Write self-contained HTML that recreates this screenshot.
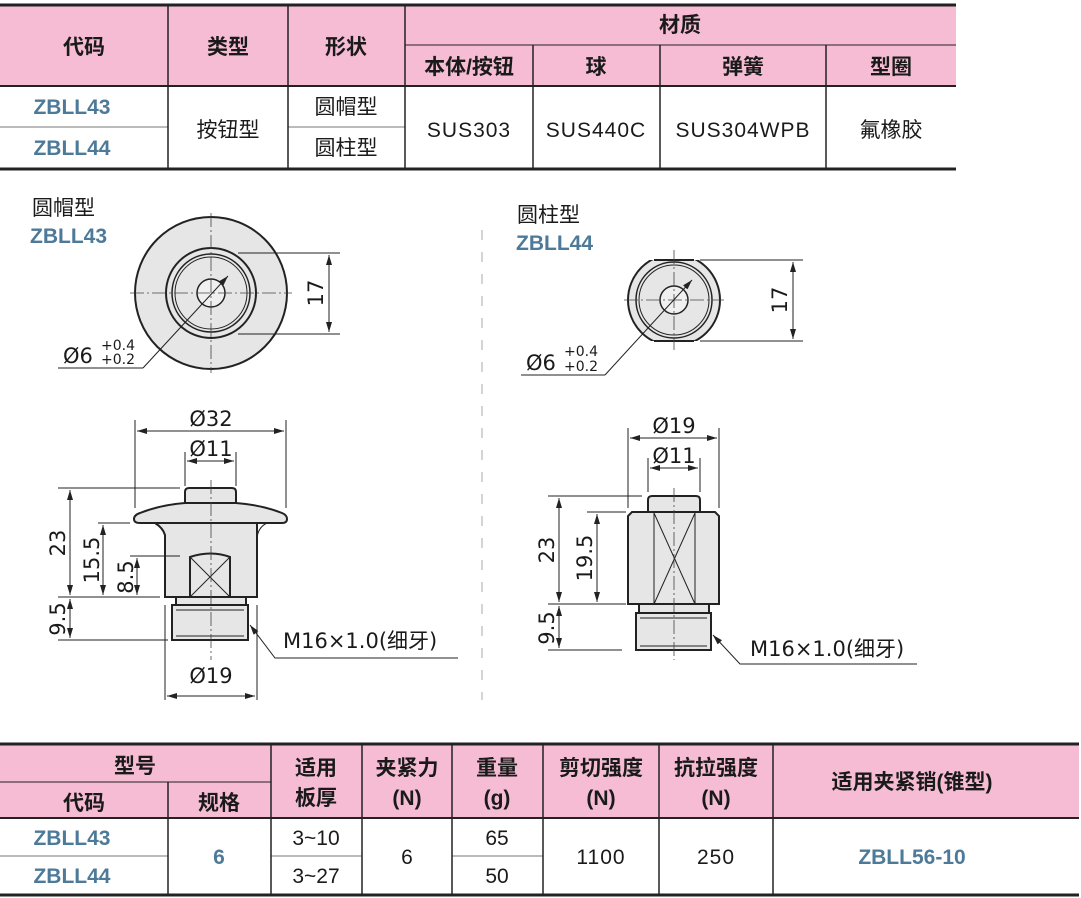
<!DOCTYPE html>
<html><head><meta charset="utf-8"><style>
html,body{margin:0;padding:0;background:#fff;}
svg{display:block;}
text{font-family:"Liberation Sans","Noto Sans CJK SC",sans-serif;fill:#1a1a1a;}
.h{font-size:21px;font-weight:bold;}
.d{font-size:21px;}
.b{font-size:21px;font-weight:bold;fill:#4d7a99;}
.m{font-size:21px;font-family:"DejaVu Sans","Noto Sans CJK SC",sans-serif;}
.s{font-size:14px;font-family:"DejaVu Sans",sans-serif;}
.p{fill:#e6e6e6;stroke:#222;stroke-width:2;}
.t{stroke:#222;stroke-width:1;fill:none;}
.c{stroke:#444;stroke-width:0.8;stroke-dasharray:14 3 2 3;fill:none;}
</style></head><body>
<svg width="1081" height="898" viewBox="0 0 1081 898" xmlns="http://www.w3.org/2000/svg">
<defs><marker id="a" viewBox="0 0 10 6" refX="10" refY="3" markerWidth="10" markerHeight="6" orient="auto-start-reverse"><path d="M0,0L10,3L0,6z" fill="#222"/></marker></defs>
<rect x="0" y="5" width="956" height="81" fill="#f5bcd4"/>
<g stroke="#222" stroke-width="1.5">
<line x1="0" y1="5" x2="956" y2="5" stroke-width="3"/>
<line x1="0" y1="86" x2="956" y2="86" stroke-width="2"/>
<line x1="0" y1="169" x2="956" y2="169" stroke-width="3"/>
<line x1="405" y1="45" x2="956" y2="45" stroke-width="1"/>
<line x1="0" y1="127" x2="168" y2="127" stroke="#777" stroke-width="1"/>
<line x1="288" y1="127" x2="405" y2="127" stroke="#777" stroke-width="1"/>
<line x1="168" y1="5" x2="168" y2="169"/><line x1="288" y1="5" x2="288" y2="169"/>
<line x1="405" y1="5" x2="405" y2="169"/><line x1="533" y1="45" x2="533" y2="169"/>
<line x1="660" y1="45" x2="660" y2="169"/><line x1="826" y1="45" x2="826" y2="169"/>
</g>
<g text-anchor="middle">
<text class="h" x="84" y="54">代码</text><text class="h" x="228" y="54">类型</text><text class="h" x="346" y="54">形状</text>
<text class="h" x="680" y="32">材质</text>
<text class="h" x="469" y="74">本体/按钮</text><text class="h" x="596" y="74">球</text><text class="h" x="743" y="74">弹簧</text><text class="h" x="891" y="74">型圈</text>
<text class="b" x="72" y="114">ZBLL43</text><text class="b" x="72" y="155">ZBLL44</text>
<text class="d" x="228" y="137">按钮型</text>
<text class="d" x="346" y="114">圆帽型</text><text class="d" x="346" y="155">圆柱型</text>
<text class="d" x="469" y="137" letter-spacing="1">SUS303</text><text class="d" x="596" y="137" letter-spacing="1">SUS440C</text>
<text class="d" x="743" y="137" letter-spacing="1">SUS304WPB</text><text class="d" x="891" y="137">氟橡胶</text>
</g>
<rect x="0" y="744" width="1079" height="74" fill="#f5bcd4"/>
<g stroke="#222" stroke-width="1.5">
<line x1="0" y1="744" x2="1079" y2="744" stroke-width="3"/>
<line x1="0" y1="818" x2="1079" y2="818" stroke-width="2"/>
<line x1="0" y1="895" x2="1079" y2="895" stroke-width="3"/>
<line x1="0" y1="782" x2="271" y2="782" stroke-width="1"/>
<line x1="0" y1="856" x2="168" y2="856" stroke="#777" stroke-width="1"/>
<line x1="271" y1="856" x2="362" y2="856" stroke="#777" stroke-width="1"/>
<line x1="452" y1="856" x2="543" y2="856" stroke="#777" stroke-width="1"/>
<line x1="168" y1="782" x2="168" y2="895"/><line x1="271" y1="744" x2="271" y2="895"/>
<line x1="362" y1="744" x2="362" y2="895"/><line x1="452" y1="744" x2="452" y2="895"/>
<line x1="543" y1="744" x2="543" y2="895"/><line x1="659" y1="744" x2="659" y2="895"/>
<line x1="773" y1="744" x2="773" y2="895"/>
</g>
<g text-anchor="middle">
<text class="h" x="135" y="773">型号</text>
<text class="h" x="84" y="810">代码</text><text class="h" x="219" y="810">规格</text>
<text class="h" x="316" y="775">适用</text><text class="h" x="316" y="805">板厚</text>
<text class="h" x="407" y="775">夹紧力</text><text class="h" x="407" y="805">(N)</text>
<text class="h" x="497" y="775">重量</text><text class="h" x="497" y="805">(g)</text>
<text class="h" x="601" y="775">剪切强度</text><text class="h" x="601" y="805">(N)</text>
<text class="h" x="716" y="775">抗拉强度</text><text class="h" x="716" y="805">(N)</text>
<text class="h" x="912" y="789">适用夹紧销(锥型)</text>
<text class="b" x="72" y="845">ZBLL43</text><text class="b" x="72" y="883">ZBLL44</text>
<text class="b" x="219" y="864">6</text>
<text class="d" x="316" y="845">3~10</text><text class="d" x="316" y="883">3~27</text>
<text class="d" x="407" y="864">6</text>
<text class="d" x="497" y="845">65</text><text class="d" x="497" y="883">50</text>
<text class="d" x="601" y="864" letter-spacing="1">1100</text><text class="d" x="716" y="864" letter-spacing="1">250</text>
<text class="b" x="912" y="864">ZBLL56-10</text>
</g>
<line x1="482" y1="230" x2="482" y2="700" stroke="#aaa" stroke-width="1" stroke-dasharray="10 12"/>
<text class="h" x="32" y="215" style="font-weight:normal">圆帽型</text>
<text class="b" x="30" y="243">ZBLL43</text>
<text class="h" x="517" y="222" style="font-weight:normal">圆柱型</text>
<text class="b" x="516" y="250">ZBLL44</text>

<circle cx="211" cy="293" r="76" class="p"/>
<circle cx="211" cy="293" r="45" class="p"/>
<circle cx="211" cy="293" r="39" fill="#e6e6e6" stroke="#222" stroke-width="1.5"/>
<circle cx="211" cy="293" r="36" class="t"/>
<circle cx="211" cy="293" r="14" fill="#f0f0f0" stroke="#222" stroke-width="1.5"/>
<line x1="130" y1="293" x2="292" y2="293" class="c"/><line x1="211" y1="213" x2="211" y2="373" class="c"/>
<line x1="238" y1="253" x2="340" y2="253" class="t"/><line x1="238" y1="334" x2="340" y2="334" class="t"/>
<line x1="329" y1="255" x2="329" y2="332" class="t" marker-start="url(#a)" marker-end="url(#a)"/>
<text class="m" transform="translate(323,293) rotate(-90)" text-anchor="middle">17</text>
<line x1="228" y1="276" x2="143" y2="368" class="t" marker-start="url(#a)"/>
<line x1="143" y1="368" x2="58" y2="368" class="t"/>
<text class="m" x="63" y="363">Ø6</text><text class="s" x="101" y="350">+0.4</text><text class="s" x="101" y="364">+0.2</text>

<path d="M185,503 L185,492 Q185,488 189,488 L232,488 Q236,488 236,492 L236,503 Z" class="p"/>
<path d="M140,513 Q160,505 185,503 L236,503 Q262,505 282,513 Q287,515 287,519 Q287,523 282,523 L140,523 Q134,523 134,519 Q134,515 140,513 Z" class="p"/>
<path d="M165,523 L257,523 Q257,530 257,535 L257,597 L165,597 L165,535 Q163,528 155,523 Z" class="p"/>
<path d="M155,523 Q165,528 165,540" class="t"/><path d="M267,523 Q257,528 257,540" class="t"/>
<path d="M190,597 L190,557 Q211,550 230,557 L230,597" class="p" stroke-width="1.5"/>
<line x1="190" y1="557" x2="230" y2="597" class="t"/><line x1="230" y1="557" x2="190" y2="597" class="t"/>
<rect x="176" y="597" width="70" height="8" class="p"/>
<rect x="172" y="605" width="76" height="35" class="p"/>
<line x1="176" y1="610" x2="244" y2="610" class="t"/><line x1="176" y1="636" x2="244" y2="636" class="t"/>
<line x1="211" y1="480" x2="211" y2="660" class="c"/>
<line x1="135" y1="420" x2="135" y2="508" class="t"/><line x1="286" y1="420" x2="286" y2="508" class="t"/>
<line x1="137" y1="431" x2="284" y2="431" class="t" marker-start="url(#a)" marker-end="url(#a)"/>
<text class="m" x="211" y="426" text-anchor="middle">Ø32</text>
<line x1="185" y1="452" x2="185" y2="486" class="t"/><line x1="236" y1="452" x2="236" y2="486" class="t"/>
<line x1="187" y1="461" x2="234" y2="461" class="t" marker-start="url(#a)" marker-end="url(#a)"/>
<text class="m" x="211" y="456" text-anchor="middle">Ø11</text>
<line x1="58" y1="488" x2="180" y2="488" class="t"/><line x1="98" y1="523" x2="130" y2="523" class="t"/>
<line x1="130" y1="556" x2="180" y2="556" class="t"/><line x1="58" y1="597" x2="160" y2="597" class="t"/>
<line x1="58" y1="640" x2="168" y2="640" class="t"/>
<line x1="70" y1="490" x2="70" y2="595" class="t" marker-start="url(#a)" marker-end="url(#a)"/>
<line x1="103" y1="525" x2="103" y2="595" class="t" marker-start="url(#a)" marker-end="url(#a)"/>
<line x1="137" y1="558" x2="137" y2="595" class="t" marker-start="url(#a)" marker-end="url(#a)"/>
<line x1="70" y1="599" x2="70" y2="638" class="t" marker-start="url(#a)" marker-end="url(#a)"/>
<text class="m" transform="translate(65,543) rotate(-90)" text-anchor="middle">23</text>
<text class="m" transform="translate(99,560) rotate(-90)" text-anchor="middle">15.5</text>
<text class="m" transform="translate(133,577) rotate(-90)" text-anchor="middle">8.5</text>
<text class="m" transform="translate(65,619) rotate(-90)" text-anchor="middle">9.5</text>
<line x1="165" y1="605" x2="165" y2="700" class="t"/><line x1="257" y1="605" x2="257" y2="700" class="t"/>
<line x1="167" y1="696" x2="255" y2="696" class="t" marker-start="url(#a)" marker-end="url(#a)"/>
<text class="m" x="211" y="683" text-anchor="middle">Ø19</text>
<polyline points="250,625 275,658 458,658" class="t" marker-start="url(#a)"/>
<text class="m" x="283" y="648">M16×1.0(细牙)</text>

<clipPath id="cp"><rect x="620" y="260" width="110" height="81"/></clipPath>
<circle cx="674" cy="300" r="46" class="p" clip-path="url(#cp)"/>
<line x1="654" y1="260" x2="694" y2="260" stroke="#222" stroke-width="2"/>
<line x1="654" y1="341" x2="694" y2="341" stroke="#222" stroke-width="2"/>
<circle cx="674" cy="300" r="38" fill="#e6e6e6" stroke="#222" stroke-width="1.5"/>
<circle cx="674" cy="300" r="35" class="t"/>
<circle cx="674" cy="300" r="14" fill="#f0f0f0" stroke="#222" stroke-width="1.5"/>
<line x1="624" y1="300" x2="724" y2="300" class="c"/><line x1="674" y1="250" x2="674" y2="350" class="c"/>
<line x1="700" y1="260" x2="803" y2="260" class="t"/><line x1="700" y1="341" x2="803" y2="341" class="t"/>
<line x1="793" y1="262" x2="793" y2="339" class="t" marker-start="url(#a)" marker-end="url(#a)"/>
<text class="m" transform="translate(787,300) rotate(-90)" text-anchor="middle">17</text>
<line x1="692" y1="280" x2="605" y2="375" class="t" marker-start="url(#a)"/>
<line x1="605" y1="375" x2="521" y2="375" class="t"/>
<text class="m" x="526" y="370">Ø6</text><text class="s" x="564" y="356">+0.4</text><text class="s" x="564" y="371">+0.2</text>

<path d="M648,512 L648,500 Q648,496 652,496 L696,496 Q700,496 700,500 L700,512 Z" class="p"/>
<path d="M632,512 L715,512 L719,516 L719,604 L628,604 L628,516 Z" class="p"/>
<line x1="654" y1="513" x2="654" y2="604" class="t"/><line x1="695" y1="513" x2="695" y2="604" class="t"/>
<line x1="654" y1="513" x2="695" y2="604" class="t"/><line x1="695" y1="513" x2="654" y2="604" class="t"/>
<rect x="639" y="604" width="70" height="9" class="p"/>
<rect x="636" y="613" width="75" height="37" class="p"/>
<line x1="640" y1="618" x2="707" y2="618" class="t"/><line x1="640" y1="646" x2="707" y2="646" class="t"/>
<line x1="674" y1="488" x2="674" y2="660" class="c"/>
<line x1="628" y1="428" x2="628" y2="508" class="t"/><line x1="719" y1="428" x2="719" y2="508" class="t"/>
<line x1="630" y1="438" x2="717" y2="438" class="t" marker-start="url(#a)" marker-end="url(#a)"/>
<text class="m" x="674" y="433" text-anchor="middle">Ø19</text>
<line x1="648" y1="458" x2="648" y2="492" class="t"/><line x1="700" y1="458" x2="700" y2="492" class="t"/>
<line x1="650" y1="468" x2="698" y2="468" class="t" marker-start="url(#a)" marker-end="url(#a)"/>
<text class="m" x="674" y="463" text-anchor="middle">Ø11</text>
<line x1="548" y1="496" x2="642" y2="496" class="t"/><line x1="587" y1="512" x2="626" y2="512" class="t"/>
<line x1="548" y1="604" x2="626" y2="604" class="t"/><line x1="548" y1="650" x2="622" y2="650" class="t"/>
<line x1="559" y1="498" x2="559" y2="602" class="t" marker-start="url(#a)" marker-end="url(#a)"/>
<line x1="597" y1="514" x2="597" y2="602" class="t" marker-start="url(#a)" marker-end="url(#a)"/>
<line x1="559" y1="606" x2="559" y2="648" class="t" marker-start="url(#a)" marker-end="url(#a)"/>
<text class="m" transform="translate(554,550) rotate(-90)" text-anchor="middle">23</text>
<text class="m" transform="translate(592,558) rotate(-90)" text-anchor="middle">19.5</text>
<text class="m" transform="translate(554,628) rotate(-90)" text-anchor="middle">9.5</text>
<polyline points="713,635 740,664 917,664" class="t" marker-start="url(#a)"/>
<text class="m" x="750" y="656">M16×1.0(细牙)</text>
</svg>
</body></html>
